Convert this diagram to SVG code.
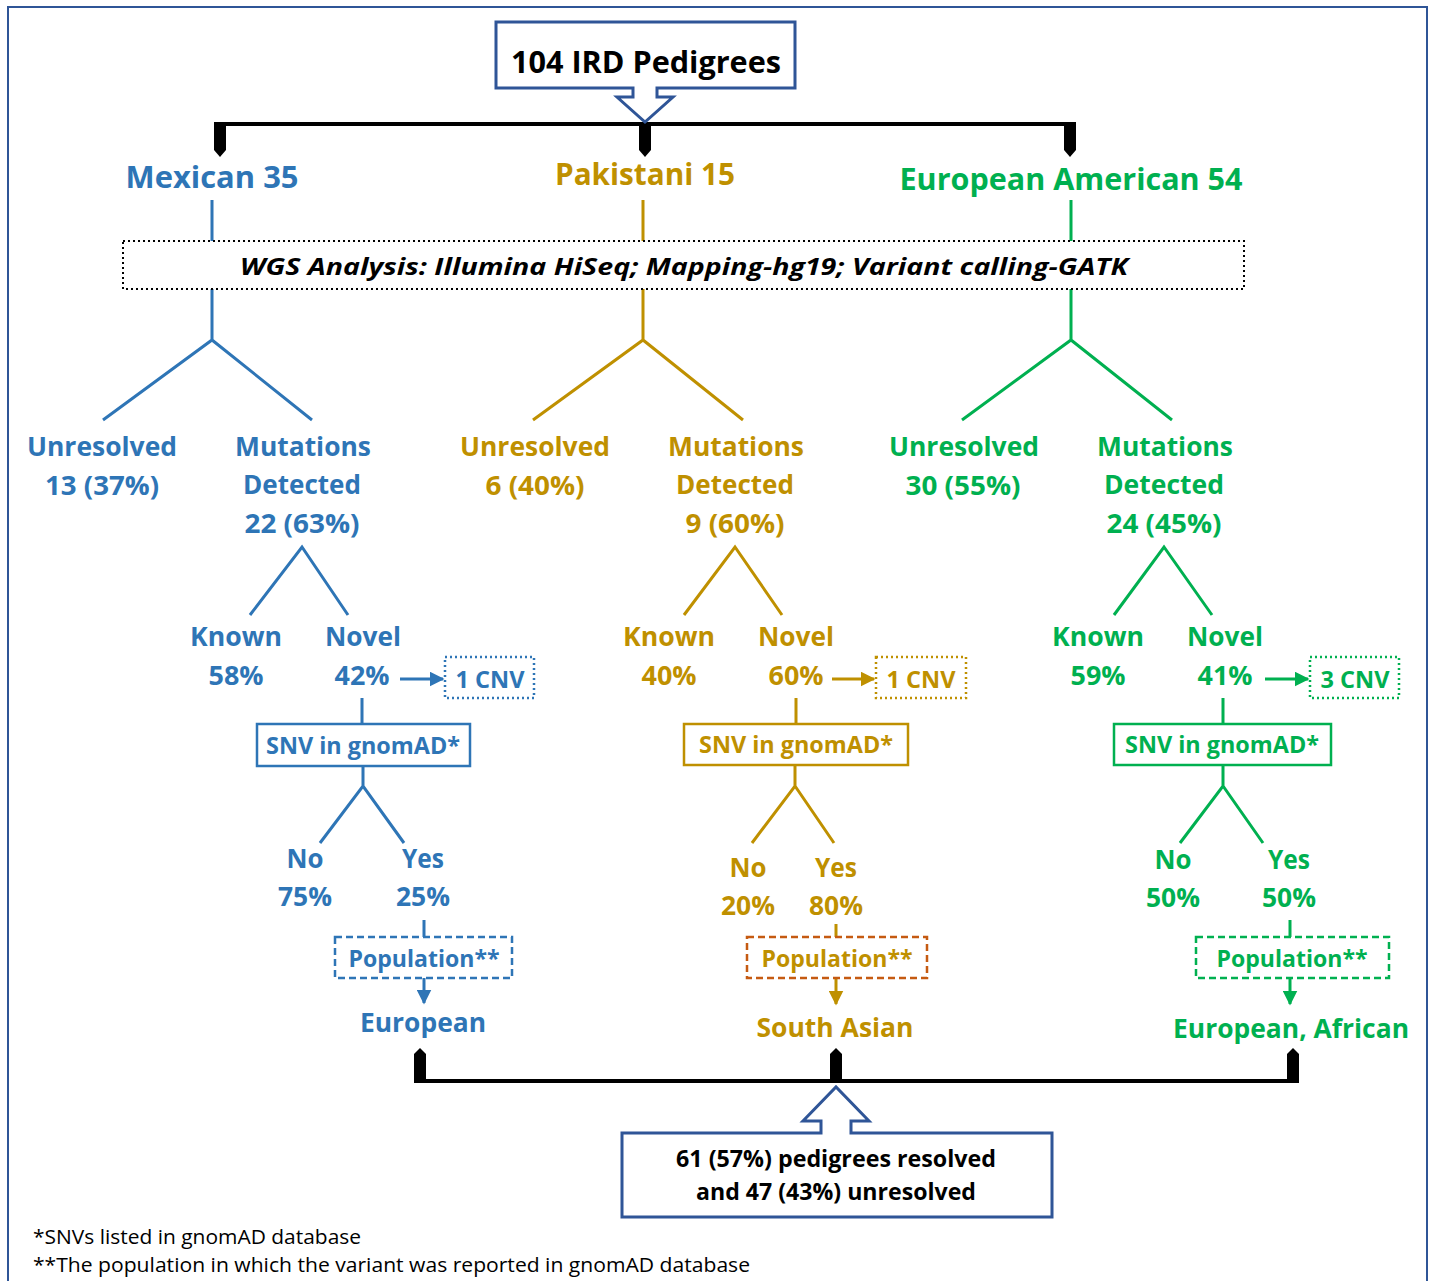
<svg xmlns="http://www.w3.org/2000/svg" width="1430" height="1281" viewBox="0 0 1430 1281">
<style>
text{font-family:"Open Sans","Liberation Sans",sans-serif;font-weight:700;text-anchor:middle}
.t{font-size:30px}
.l{font-size:27px}
.s{font-size:24px}
.b{fill:#2E75B6}.g{fill:#BF9000}.e{fill:#00B050}
.cb{stroke:#2E75B6}.cg{stroke:#BF9000}.ce{stroke:#00B050}
.c{fill:none;stroke-width:3}
.dot{stroke-dasharray:2 3}
.dash{stroke-dasharray:7 4}
.fn{font-weight:400;font-size:20px;text-anchor:start;fill:#000}
</style>
<defs>
<marker id="ab" viewBox="0 0 10 10" refX="9" refY="5" markerWidth="5" markerHeight="5" orient="auto"><path d="M0,0L10,5L0,10Z" fill="#2E75B6"/></marker>
<marker id="ag" viewBox="0 0 10 10" refX="9" refY="5" markerWidth="5" markerHeight="5" orient="auto"><path d="M0,0L10,5L0,10Z" fill="#BF9000"/></marker>
<marker id="ae" viewBox="0 0 10 10" refX="9" refY="5" markerWidth="5" markerHeight="5" orient="auto"><path d="M0,0L10,5L0,10Z" fill="#00B050"/></marker>
</defs>
<rect x="0" y="0" width="1430" height="1281" fill="#fff"/>
<path d="M8,1281V7H1427V1281" fill="none" stroke="#2F5597" stroke-width="2"/>

<g id="connectors">
  <line x1="220" y1="124" x2="1070" y2="124" stroke="#000" stroke-width="4"/>
  <path d="M214,122H226V150L220,157L214,150Z" fill="#000"/>
  <path d="M639,122H651V150L645,157L639,150Z" fill="#000"/>
  <path d="M1064,122H1076V150L1070,157L1064,150Z" fill="#000"/>
  <g class="c cb">
    <path d="M212,200V241M212,289V340M103,420L212,340L312,420"/>
    <path d="M250,615L302,547L348,615"/>
    <line x1="400" y1="679" x2="443" y2="679" marker-end="url(#ab)"/>
    <path d="M362,698V724M363,766V786M320,843L363,786L404,843"/>
    <path d="M424,920V937"/>
    <line x1="424" y1="978" x2="424" y2="1003" marker-end="url(#ab)"/>
  </g>
  <g class="c cg">
    <path d="M643,200V241M643,289V340M533,420L643,340L743,420"/>
    <path d="M684,615L735,547L782,615"/>
    <line x1="832" y1="679" x2="874" y2="679" marker-end="url(#ag)"/>
    <path d="M796,698V724M795,765V786M752,843L795,786L834,843"/>
    <path d="M836,924V937"/>
    <line x1="836" y1="978" x2="836" y2="1004" marker-end="url(#ag)"/>
  </g>
  <g class="c ce">
    <path d="M1071,200V241M1071,289V340M962,420L1071,340L1172,420"/>
    <path d="M1114,615L1164,547L1212,615"/>
    <line x1="1265" y1="679" x2="1308" y2="679" marker-end="url(#ae)"/>
    <path d="M1223,698V724M1223,765V786M1180,843L1223,786L1263,843"/>
    <path d="M1290,920V937"/>
    <line x1="1290" y1="978" x2="1290" y2="1004" marker-end="url(#ae)"/>
  </g>
  <line x1="420" y1="1081" x2="1293" y2="1081" stroke="#000" stroke-width="4"/>
  <path d="M414,1083V1054L420,1048L426,1054V1083Z" fill="#000"/>
  <path d="M830,1083V1054L836,1048L842,1054V1083Z" fill="#000"/>
  <path d="M1287,1083V1054L1293,1048L1299,1054V1083Z" fill="#000"/>
</g>

<g id="top">
  <path d="M496,22H795V88H657V97H673L645,122L617,97H633V88H496Z" fill="#fff" stroke="#2F5597" stroke-width="3"/>
  <text x="646" y="73" style="font-size:30px" fill="#000" textLength="270" lengthAdjust="spacingAndGlyphs">104 IRD Pedigrees</text>
</g>

<g id="mexican"><text class="t b" x="212" y="188" textLength="173" lengthAdjust="spacingAndGlyphs">Mexican 35</text></g>
<g id="pakistani"><text class="t g" x="645" y="185" textLength="180" lengthAdjust="spacingAndGlyphs">Pakistani 15</text></g>
<g id="european"><text class="t e" x="1071" y="190" textLength="343" lengthAdjust="spacingAndGlyphs">European American 54</text></g>

<g id="wgs">
  <rect x="123" y="241" width="1121" height="48" fill="#fff" stroke="#000" stroke-width="2" class="dot"/>
  <text x="684" y="275" style="font-size:24px;font-style:italic" fill="#000" textLength="888" lengthAdjust="spacingAndGlyphs">WGS Analysis: Illumina HiSeq; Mapping-hg19; Variant calling-GATK</text>
</g>

<g id="mx-unresolved"><text class="l b" x="102" y="456" textLength="150" lengthAdjust="spacingAndGlyphs">Unresolved</text><text class="l b" x="102" y="495" textLength="114" lengthAdjust="spacingAndGlyphs">13 (37%)</text></g>
<g id="mx-mutations"><text class="l b" x="303" y="456" textLength="136" lengthAdjust="spacingAndGlyphs">Mutations</text><text class="l b" x="302" y="494" textLength="118" lengthAdjust="spacingAndGlyphs">Detected</text><text class="l b" x="302" y="533" textLength="115" lengthAdjust="spacingAndGlyphs">22 (63%)</text></g>
<g id="mx-known"><text class="l b" x="236" y="646" textLength="92" lengthAdjust="spacingAndGlyphs">Known</text><text class="l b" x="236" y="685" textLength="55" lengthAdjust="spacingAndGlyphs">58%</text></g>
<g id="mx-novel"><text class="l b" x="363" y="646" textLength="76" lengthAdjust="spacingAndGlyphs">Novel</text><text class="l b" x="362" y="685" textLength="55" lengthAdjust="spacingAndGlyphs">42%</text></g>
<g id="mx-cnv"><rect x="445" y="657" width="89" height="41" fill="#fff" stroke="#2E75B6" stroke-width="2.5" class="dot"/><text class="s b" x="490" y="688" textLength="69" lengthAdjust="spacingAndGlyphs">1 CNV</text></g>
<g id="mx-snv"><rect x="257" y="724" width="213" height="42" fill="#fff" stroke="#2E75B6" stroke-width="2.5"/><text class="s b" x="363" y="754" textLength="194" lengthAdjust="spacingAndGlyphs">SNV in gnomAD*</text></g>
<g id="mx-no"><text class="l b" x="305" y="868" textLength="37" lengthAdjust="spacingAndGlyphs">No</text><text class="l b" x="305" y="906" textLength="54" lengthAdjust="spacingAndGlyphs">75%</text></g>
<g id="mx-yes"><text class="l b" x="423" y="868" textLength="42" lengthAdjust="spacingAndGlyphs">Yes</text><text class="l b" x="423" y="906" textLength="54" lengthAdjust="spacingAndGlyphs">25%</text></g>
<g id="mx-pop"><rect x="335" y="937" width="177" height="41" fill="#fff" stroke="#2E75B6" stroke-width="2.5" class="dash"/><text class="s b" x="424" y="967" textLength="151" lengthAdjust="spacingAndGlyphs">Population**</text></g>
<g id="mx-result"><text class="l b" x="423" y="1032" textLength="126" lengthAdjust="spacingAndGlyphs">European</text></g>

<g id="pk-unresolved"><text class="l g" x="535" y="456" textLength="150" lengthAdjust="spacingAndGlyphs">Unresolved</text><text class="l g" x="535" y="495" textLength="99" lengthAdjust="spacingAndGlyphs">6 (40%)</text></g>
<g id="pk-mutations"><text class="l g" x="736" y="456" textLength="136" lengthAdjust="spacingAndGlyphs">Mutations</text><text class="l g" x="735" y="494" textLength="118" lengthAdjust="spacingAndGlyphs">Detected</text><text class="l g" x="735" y="533" textLength="99" lengthAdjust="spacingAndGlyphs">9 (60%)</text></g>
<g id="pk-known"><text class="l g" x="669" y="646" textLength="92" lengthAdjust="spacingAndGlyphs">Known</text><text class="l g" x="669" y="685" textLength="55" lengthAdjust="spacingAndGlyphs">40%</text></g>
<g id="pk-novel"><text class="l g" x="796" y="646" textLength="76" lengthAdjust="spacingAndGlyphs">Novel</text><text class="l g" x="796" y="685" textLength="55" lengthAdjust="spacingAndGlyphs">60%</text></g>
<g id="pk-cnv"><rect x="876" y="657" width="90" height="41" fill="#fff" stroke="#BF9000" stroke-width="2.5" class="dot"/><text class="s g" x="921" y="688" textLength="69" lengthAdjust="spacingAndGlyphs">1 CNV</text></g>
<g id="pk-snv"><rect x="684" y="724" width="224" height="41" fill="#fff" stroke="#BF9000" stroke-width="2.5"/><text class="s g" x="796" y="753" textLength="194" lengthAdjust="spacingAndGlyphs">SNV in gnomAD*</text></g>
<g id="pk-no"><text class="l g" x="748" y="877" textLength="37" lengthAdjust="spacingAndGlyphs">No</text><text class="l g" x="748" y="915" textLength="54" lengthAdjust="spacingAndGlyphs">20%</text></g>
<g id="pk-yes"><text class="l g" x="836" y="877" textLength="42" lengthAdjust="spacingAndGlyphs">Yes</text><text class="l g" x="836" y="915" textLength="54" lengthAdjust="spacingAndGlyphs">80%</text></g>
<g id="pk-pop"><rect x="747" y="937" width="180" height="41" fill="#fff" stroke="#C55A11" stroke-width="2.5" class="dash"/><text class="s g" x="837" y="967" textLength="151" lengthAdjust="spacingAndGlyphs">Population**</text></g>
<g id="pk-result"><text class="l g" x="835" y="1037" textLength="157" lengthAdjust="spacingAndGlyphs">South Asian</text></g>

<g id="ea-unresolved"><text class="l e" x="964" y="456" textLength="150" lengthAdjust="spacingAndGlyphs">Unresolved</text><text class="l e" x="963" y="495" textLength="115" lengthAdjust="spacingAndGlyphs">30 (55%)</text></g>
<g id="ea-mutations"><text class="l e" x="1165" y="456" textLength="136" lengthAdjust="spacingAndGlyphs">Mutations</text><text class="l e" x="1164" y="494" textLength="120" lengthAdjust="spacingAndGlyphs">Detected</text><text class="l e" x="1164" y="533" textLength="115" lengthAdjust="spacingAndGlyphs">24 (45%)</text></g>
<g id="ea-known"><text class="l e" x="1098" y="646" textLength="92" lengthAdjust="spacingAndGlyphs">Known</text><text class="l e" x="1098" y="685" textLength="55" lengthAdjust="spacingAndGlyphs">59%</text></g>
<g id="ea-novel"><text class="l e" x="1225" y="646" textLength="76" lengthAdjust="spacingAndGlyphs">Novel</text><text class="l e" x="1225" y="685" textLength="55" lengthAdjust="spacingAndGlyphs">41%</text></g>
<g id="ea-cnv"><rect x="1310" y="657" width="89" height="41" fill="#fff" stroke="#00B050" stroke-width="2.5" class="dot"/><text class="s e" x="1355" y="688" textLength="69" lengthAdjust="spacingAndGlyphs">3 CNV</text></g>
<g id="ea-snv"><rect x="1114" y="724" width="217" height="41" fill="#fff" stroke="#00B050" stroke-width="2.5"/><text class="s e" x="1222" y="753" textLength="194" lengthAdjust="spacingAndGlyphs">SNV in gnomAD*</text></g>
<g id="ea-no"><text class="l e" x="1173" y="869" textLength="37" lengthAdjust="spacingAndGlyphs">No</text><text class="l e" x="1173" y="907" textLength="54" lengthAdjust="spacingAndGlyphs">50%</text></g>
<g id="ea-yes"><text class="l e" x="1289" y="869" textLength="42" lengthAdjust="spacingAndGlyphs">Yes</text><text class="l e" x="1289" y="907" textLength="54" lengthAdjust="spacingAndGlyphs">50%</text></g>
<g id="ea-pop"><rect x="1196" y="937" width="193" height="41" fill="#fff" stroke="#00B050" stroke-width="2.5" class="dash"/><text class="s e" x="1292" y="967" textLength="151" lengthAdjust="spacingAndGlyphs">Population**</text></g>
<g id="ea-result"><text class="l e" x="1291" y="1038" textLength="236" lengthAdjust="spacingAndGlyphs">European, African</text></g>

<g id="summary">
  <path d="M622,1217V1133H821V1121H803L836,1087L869,1121H851V1133H1052V1217Z" fill="#fff" stroke="#2F5597" stroke-width="3"/>
  <text x="836" y="1167" style="font-size:24px" fill="#000" textLength="320" lengthAdjust="spacingAndGlyphs">61 (57%) pedigrees resolved</text>
  <text x="836" y="1200" style="font-size:24px" fill="#000" textLength="280" lengthAdjust="spacingAndGlyphs">and 47 (43%) unresolved</text>
</g>

<g id="footnotes">
  <text class="fn" x="33" y="1244" textLength="328" lengthAdjust="spacingAndGlyphs">*SNVs listed in gnomAD database</text>
  <text class="fn" x="33" y="1272" textLength="717" lengthAdjust="spacingAndGlyphs">**The population in which the variant was reported in gnomAD database</text>
</g>
</svg>
